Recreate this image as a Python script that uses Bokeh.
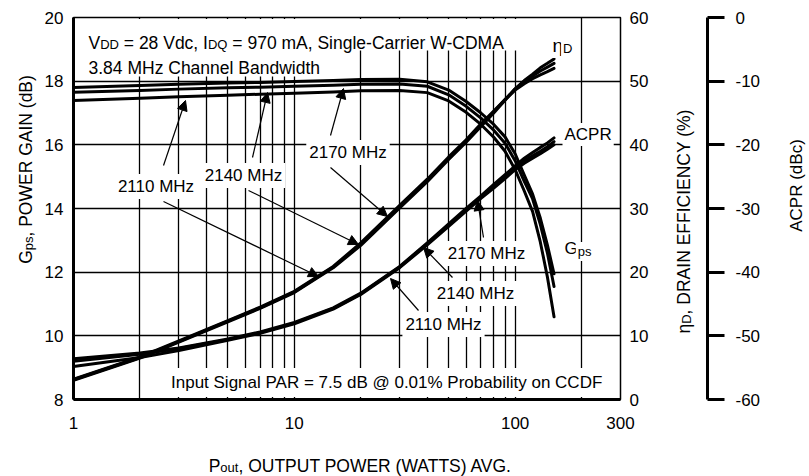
import math

from bokeh.plotting import figure
from bokeh.layouts import row, column
from bokeh.models import (Range1d, LinearAxis, FixedTicker, Label, Arrow, NormalHead,
                          BoxAnnotation, BasicTickFormatter, PrintfTickFormatter)
from bokeh.embed import file_html
from bokeh.resources import INLINE

# ---------------- data ----------------
pout = [1, 2, 3, 5, 7, 10, 15, 20, 30, 40, 50, 60, 70, 80, 90, 100, 110, 120, 130, 140, 150]

gps_2110 = [17.39, 17.46, 17.51, 17.56, 17.59, 17.62, 17.66, 17.70, 17.71, 17.64, 17.38, 17.02,
            16.64, 16.24, 15.80, 15.22, 14.55, 13.90, 12.95, 11.85, 10.60]
gps_2140 = [17.65, 17.71, 17.75, 17.79, 17.81, 17.84, 17.87, 17.90, 17.91, 17.84, 17.57, 17.21,
            16.84, 16.46, 16.05, 15.50, 14.85, 14.30, 13.50, 12.60, 11.55]
gps_2170 = [17.80, 17.86, 17.90, 17.94, 17.96, 17.99, 18.02, 18.05, 18.06, 17.98, 17.72, 17.36,
            17.00, 16.64, 16.25, 15.72, 15.05, 14.45, 13.70, 12.85, 11.95]

eta_2110 = [3.0, 6.5, 9.0, 12.2, 14.3, 16.8, 20.7, 24.2, 30.1, 34.2, 37.7, 40.4, 42.9, 45.0,
            47.0, 48.8, 50.1, 51.1, 52.1, 52.8, 53.5]
eta_2140 = [3.1, 6.6, 9.1, 12.3, 14.4, 16.9, 20.8, 24.4, 30.3, 34.4, 37.9, 40.6, 43.1, 45.2,
            47.1, 48.8, 50.0, 50.8, 51.6, 52.2, 52.8]
eta_2170 = [3.2, 6.7, 9.2, 12.4, 14.5, 17.0, 20.9, 24.6, 30.5, 34.6, 38.1, 40.8, 43.3, 45.3,
            47.1, 48.6, 49.6, 50.4, 51.0, 51.5, 52.0]

acpr_2110 = [-54.8, -53.4, -52.3, -50.7, -49.6, -48.1, -45.8, -43.5, -39.3, -35.7, -32.8, -30.4,
             -28.4, -26.8, -25.3, -23.9, -22.9, -22.1, -21.4, -20.7, -20.0]
acpr_2140 = [-54.0, -52.9, -52.0, -50.6, -49.5, -48.0, -45.7, -43.4, -39.2, -35.5, -32.6, -30.2,
             -28.2, -26.5, -25.0, -23.6, -22.5, -21.7, -21.0, -20.3, -19.5]
acpr_2170 = [-53.6, -52.7, -51.9, -50.5, -49.4, -47.9, -45.6, -43.3, -39.1, -35.4, -32.4, -30.0,
             -28.0, -26.2, -24.7, -23.3, -22.1, -21.2, -20.4, -19.7, -18.9]

x_tick_values = [1, 10, 100, 300]
x_grid_values = [1, 2, 3, 4, 5, 6, 7, 8, 9, 10, 20, 30, 40, 50, 60, 70, 80, 90, 100, 200, 300]
gps_ticks = [8, 10, 12, 14, 16, 18, 20]
eta_ticks = [0, 10, 20, 30, 40, 50, 60]
acpr_ticks = [-60, -50, -40, -30, -20, -10, 0]

X_MIN, X_MAX = 1, 300
GPS_MIN, GPS_MAX = 8, 20
ETA_MIN, ETA_MAX = 0, 60
ACPR_MIN, ACPR_MAX = -60, 0

# ---------------- fonts / text measuring (Arial metrics = Liberation Sans) ----------------
FONT = "Liberation Sans"
FS = 17
SUB = 13

_W = {}
for _chars, _w in [(" ,.:;!I/ft[]", 278), ("ijl", 222), ("-()r", 333), ("cksvxyzJ", 500),
                   ("0123456789abdeghnopquL?#$_\u03b7", 556), ("=+<>", 584), ("FTZ", 611),
                   ("ABEKPSVXY", 667), ("CDHNRUw", 722), ("GOQ", 778), ("Mm", 833),
                   ("%", 889), ("W", 944), ("@", 1015)]:
    for _c in _chars:
        _W[_c] = _w


def tw(text, size):
    return sum(_W.get(c, 556) for c in text) * size / 1000.0


# ---------------- layout geometry (page pixels) ----------------
W_TOTAL, H_TOTAL = 809, 476
FX0, FX1, FY0, FY1 = 73, 620, 17, 399      # main frame
L_W = 40                                   # left title strip
MAIN_R = 655                               # right edge of the main figure
MAIN_H = 440
ACPR_SPINE = 707
ACPR_R = 775


def dx(px):
    return 10 ** ((px - FX0) / (FX1 - FX0) * math.log10(X_MAX / X_MIN)) * X_MIN


def dy(py):
    return GPS_MAX - (py - FY0) / (FY1 - FY0) * (GPS_MAX - GPS_MIN)


def blank(width, height):
    f = figure(width=width, height=height, x_range=Range1d(0, width), y_range=Range1d(0, height),
               output_backend="svg", toolbar_location=None, title=None,
               x_axis_location=None, y_axis_location=None,
               min_border_left=0, min_border_right=0, min_border_top=0, min_border_bottom=0)
    f.outline_line_color = None
    f.grid.visible = False
    f.background_fill_color = "white"
    f.border_fill_color = "white"
    return f


def rich(fig, x, y, pieces, size=FS, sub_size=SUB, drop=3, angle=0.0, bg=False, pad=2):
    """Place a run of text pieces (normal / subscript) one after another."""
    off = 0.0
    for text, is_sub in pieces:
        s = sub_size if is_sub else size
        stripped = text.lstrip(" ")
        lead = tw(text[:len(text) - len(stripped)], s)
        shown = stripped.rstrip(" ")
        o = off + lead
        if angle == 0:
            xo, yo = o, (-drop if is_sub else 0)
        else:
            xo, yo = (drop if is_sub else 0), o
        kw = dict(x=x, y=y, x_offset=xo, y_offset=yo, text=shown, angle=angle,
                  text_font=FONT, text_font_size=f"{s}px", text_color="black",
                  text_align="left", text_baseline="alphabetic")
        if bg:
            kw.update(background_fill_color="white", background_fill_alpha=1.0, padding=pad)
        if shown:
            fig.add_layout(Label(**kw))
        off += tw(text, s)


# ---------------- main figure ----------------
p = figure(width=MAIN_R - L_W, height=MAIN_H, x_axis_type="log",
           x_range=Range1d(X_MIN, X_MAX), y_range=Range1d(GPS_MIN, GPS_MAX),
           output_backend="svg", toolbar_location=None, title=None,
           min_border_left=FX0 - L_W, min_border_right=MAIN_R - FX1,
           min_border_top=FY0, min_border_bottom=MAIN_H - FY1)
p.extra_y_ranges = {"eta": Range1d(ETA_MIN, ETA_MAX), "acpr": Range1d(ACPR_MIN, ACPR_MAX)}
p.background_fill_color = "white"
p.border_fill_color = "white"
p.outline_line_color = "black"
p.outline_line_width = 1.5

p.xgrid.ticker = FixedTicker(ticks=x_grid_values)
p.ygrid.ticker = FixedTicker(ticks=gps_ticks)
p.grid.grid_line_color = "black"
p.grid.grid_line_width = 1.3
p.grid.grid_line_alpha = 1.0

xa = p.xaxis[0]
ya = p.yaxis[0]
xa.ticker = FixedTicker(ticks=x_tick_values)
xa.formatter = BasicTickFormatter()
ya.ticker = FixedTicker(ticks=gps_ticks)
for ax in (xa, ya):
    ax.axis_line_width = 3
    ax.axis_line_color = "black"
    ax.major_tick_out = 0
    ax.major_tick_in = 0
    ax.minor_tick_out = 0
    ax.minor_tick_in = 0
    ax.major_label_text_font = FONT
    ax.major_label_text_font_size = f"{FS}px"
    ax.major_label_text_color = "black"
xa.major_label_standoff = 17
ya.major_label_standoff = 10

eta_axis = LinearAxis(y_range_name="eta", ticker=FixedTicker(ticks=eta_ticks),
                      axis_line_color=None, major_tick_out=0, major_tick_in=0,
                      minor_tick_out=0, minor_tick_in=0, major_label_standoff=9,
                      major_label_text_font=FONT, major_label_text_font_size=f"{FS}px",
                      major_label_text_color="black")
p.add_layout(eta_axis, "right")

LW = 3
for ys in (gps_2110, gps_2140, gps_2170):
    p.line(pout, ys, line_width=LW, line_color="black", line_join="round", line_cap="round")
for ys in (eta_2110, eta_2140, eta_2170):
    p.line(pout, ys, line_width=LW, line_color="black", line_join="round", line_cap="round",
           y_range_name="eta")
for ys in (acpr_2110, acpr_2140, acpr_2170):
    p.line(pout, ys, line_width=LW, line_color="black", line_join="round", line_cap="round",
           y_range_name="acpr")

# white areas behind the condition text at the top
p.add_layout(BoxAnnotation(left=dx(75), right=dx(522), top=dy(18.5), bottom=dy(50),
                           fill_color="white", fill_alpha=1.0, line_alpha=0.0))
p.add_layout(BoxAnnotation(left=dx(75), right=dx(325), top=dy(49), bottom=dy(76),
                           fill_color="white", fill_alpha=1.0, line_alpha=0.0))

rich(p, dx(88), dy(42), [("V", 0), ("DD", 1), (" = 28 Vdc, I", 0), ("DQ", 1),
                         (" = 970 mA, Single-Carrier W-CDMA", 0)], size=17.5, drop=2)
rich(p, dx(88), dy(67), [("3.84 MHz Channel Bandwidth", 0)], size=17.5)

p.add_layout(Label(x=dx(165.5), y=dy(382),
                   text="Input Signal PAR = 7.5 dB @ 0.01% Probability on CCDF",
                   text_font=FONT, text_font_size=f"{FS}px", text_color="black",
                   text_align="left", text_baseline="alphabetic",
                   background_fill_color="white", background_fill_alpha=1.0, padding=5))

rich(p, dx(550), dy(45), [("\u03b7", 0), ("D", 1)], size=19, bg=True)
rich(p, dx(562), dy(134), [("ACPR", 0)], bg=True)
rich(p, dx(562), dy(248), [("G", 0), ("ps", 1)], bg=True)

arrows = [
    ((163, 165), (185, 100)), ((163, 201), (318, 276)),
    ((252, 157), (267, 92)), ((248, 190), (358, 244)),
    ((330, 135), (343, 88)), ((330, 167), (387, 216)),
    ((483, 237), (477, 200)),
    ((452, 277), (423, 247)),
    ((418, 310), (390, 278)),
]
for (sx, sy), (ex, ey) in arrows:
    p.add_layout(Arrow(x_start=dx(sx), y_start=dy(sy), x_end=dx(ex), y_end=dy(ey),
                       line_color="black", line_width=1.2,
                       end=NormalHead(size=10, fill_color="black", line_color="black",
                                      line_width=1)))


def centered(px, py, text, pad=3):
    p.add_layout(Label(x=dx(px), y=dy(py), text=text, text_font=FONT,
                       text_font_size=f"{FS}px", text_color="black",
                       text_align="center", text_baseline="middle",
                       background_fill_color="white", background_fill_alpha=1.0,
                       padding=pad))


centered(155.5, 186, "2110 MHz")
centered(243, 175, "2140 MHz")
centered(347.5, 152, "2170 MHz")
centered(486, 253, "2170 MHz")
centered(475, 293, "2140 MHz")
centered(443, 324, "2110 MHz")

# ---------------- ACPR axis figure (also carries the eta title) ----------------
fa = figure(width=ACPR_R - MAIN_R, height=H_TOTAL, x_range=Range1d(0, ACPR_SPINE - MAIN_R),
            y_range=Range1d(ACPR_MIN, ACPR_MAX), output_backend="svg", toolbar_location=None,
            title=None, x_axis_location=None, y_axis_location="right",
            min_border_left=0, min_border_right=ACPR_R - ACPR_SPINE,
            min_border_top=FY0, min_border_bottom=H_TOTAL - FY1)
fa.outline_line_color = None
fa.grid.visible = False
fa.background_fill_color = "white"
fa.border_fill_color = "white"
aa = fa.yaxis[0]
aa.ticker = FixedTicker(ticks=acpr_ticks)
aa.formatter = PrintfTickFormatter(format="%d")
aa.axis_line_color = "black"
aa.axis_line_width = 3
aa.major_tick_out = 17
aa.major_tick_in = 0
aa.major_tick_line_width = 3
aa.minor_tick_out = 0
aa.minor_tick_in = 0
aa.major_label_standoff = 11
aa.major_label_text_font = FONT
aa.major_label_text_font_size = f"{FS}px"
aa.major_label_text_color = "black"


def ay(py):
    return ACPR_MIN + (FY1 - py) / (FY1 - FY0) * (ACPR_MAX - ACPR_MIN)


rich(fa, 683 - MAIN_R, ay(333), [("\u03b7", 0), ("D", 1), (", DRAIN EFFICIENCY (%)", 0)],
     size=17.5, angle=math.pi / 2)

# ---------------- title strips ----------------
fl = blank(L_W, H_TOTAL)
rich(fl, 25, H_TOTAL - 307, [("G", 0), ("ps", 1), (", POWER GAIN (dB)", 0)], size=17.5,
     angle=math.pi / 2)

fb = blank(MAIN_R - L_W, H_TOTAL - MAIN_H)
rich(fb, 192 - L_W, (H_TOTAL - MAIN_H) - (465 - MAIN_H),
     [("P", 0), ("out", 1), (", OUTPUT POWER (WATTS) AVG.", 0)], size=17.5, drop=2)

fr = blank(W_TOTAL - ACPR_R, H_TOTAL)
rich(fr, 795.5 - ACPR_R, H_TOTAL - 267, [("ACPR (dBc)", 0)], angle=math.pi / 2)

layout = row(fl, column(p, fb, spacing=0), fa, fr, spacing=0)

open("out.html", "w").write(file_html(layout, INLINE))
